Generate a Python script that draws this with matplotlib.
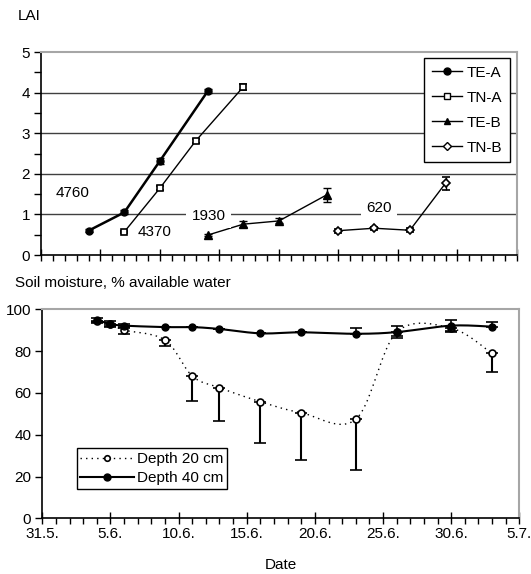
import numpy as np
import matplotlib
matplotlib.use("Agg")
import matplotlib.pyplot as plt
from matplotlib.lines import Line2D
from matplotlib.ticker import MultipleLocator, NullFormatter

plt.rcParams['font.family'] = ['Liberation Sans', 'DejaVu Sans']
plt.rcParams['font.size'] = 11

# --- LAI panel (x in days, unlabeled axis 0..40) ---
te_a_x = [4, 7, 10, 14]
te_a_y = [0.60, 1.05, 2.32, 4.03]
te_a_err = [0.03, 0.05, 0.07, 0.05]

tn_a_x = [7, 10, 13, 17]
tn_a_y = [0.57, 1.65, 2.81, 4.14]
tn_a_err = [0.03, 0.06, 0.05, 0.08]

te_b_x = [14, 17, 20, 24]
te_b_y = [0.49, 0.76, 0.84, 1.48]
te_b_err = [0.03, 0.08, 0.06, 0.17]

tn_b_x = [25, 28, 31, 34]
tn_b_y = [0.60, 0.66, 0.61, 1.77]
tn_b_err = [0.05, 0.04, 0.05, 0.16]

density_labels = ['4760', '4370', '1930', '620']

# --- Soil moisture panel (days after 31.5.) ---
days = [4, 5, 6, 9, 11, 13, 16, 19, 23, 26, 30, 33]
d20 = [94.5, 93.0, 90.1, 85.3, 68.1, 62.5, 55.8, 50.5, 47.4, 89.0, 91.0, 78.9]
d20_lo = [1.0, 1.0, 2.0, 3.0, 11.8, 15.8, 19.6, 22.6, 24.3, 2.0, 2.0, 8.8]
d20_hi = [0, 0, 1.5, 0, 0, 0, 0, 0, 0, 0, 0, 0]
d40 = [94.9, 93.0, 92.2, 91.5, 91.5, 90.6, 88.5, 89.0, 88.3, 89.1, 92.2, 91.7]
d40_lo = [1.0, 1.5, 1.0, 0, 0, 0, 0, 0, 0, 2.8, 2.7, 0]
d40_hi = [1.0, 1.5, 1.0, 0, 0, 0, 0, 0, 3.0, 2.8, 2.7, 2.2]

date_ticks = [0, 5, 10, 15, 20, 25, 30, 35]
date_labels = ['31.5.', '5.6.', '10.6.', '15.6.', '20.6.', '25.6.', '30.6.', '5.7.']


def smooth(x, y, n=24):
    # Excel-style smoothed line: cubic Bezier segments with Catmull-Rom controls
    p = np.column_stack([x, y]).astype(float)
    pts = [p[0]]
    for i in range(len(p) - 1):
        p0 = p[i - 1] if i > 0 else p[i]
        p1, p2 = p[i], p[i + 1]
        p3 = p[i + 2] if i + 2 < len(p) else p[i + 1]
        c1 = p1 + (p2 - p0) / 6
        c2 = p2 - (p3 - p1) / 6
        t = np.linspace(0, 1, n)[1:, None]
        seg = ((1 - t) ** 3 * p1 + 3 * (1 - t) ** 2 * t * c1
               + 3 * (1 - t) * t ** 2 * c2 + t ** 3 * p2)
        pts.extend(seg)
    pts = np.array(pts)
    return pts[:, 0], pts[:, 1]


def frame(ax):
    for s in ['top', 'right']:
        ax.spines[s].set_color('#a6a6a6')
        ax.spines[s].set_linewidth(1.5)
    for s in ['left', 'bottom']:
        ax.spines[s].set_color('black')
        ax.spines[s].set_linewidth(1.2)


fig = plt.figure(figsize=(5.31, 5.74), dpi=100)

# ---------------- top: LAI ----------------
ax1 = fig.add_axes([0.0772, 0.5557, 0.8964, 0.3537])
frame(ax1)
ax1.set_xlim(0, 40)
ax1.set_ylim(0, 5)
for g in [1, 2, 3, 4]:
    ax1.axhline(g, color='#404040', lw=1.0, zorder=1)

eb = dict(ecolor='black', elinewidth=1.0, capsize=3, capthick=1.0, color='black', zorder=3)
ax1.errorbar(te_a_x, te_a_y, yerr=te_a_err, marker='o', ms=5, lw=1.8,
             mfc='black', mec='black', **eb)
ax1.errorbar(tn_a_x, tn_a_y, yerr=tn_a_err, marker='s', ms=5, lw=1.0,
             mfc='white', mec='black', mew=1.2, **eb)
ax1.errorbar(te_b_x, te_b_y, yerr=te_b_err, marker='^', ms=5.5, lw=1.0,
             mfc='black', mec='black', **eb)
ax1.errorbar(tn_b_x, tn_b_y, yerr=tn_b_err, marker='D', ms=4.5, lw=1.0,
             mfc='white', mec='black', mew=1.2, **eb)

ax1.text(1.2, 1.53, density_labels[0], ha='left', va='center')
ax1.text(8.1, 0.57, density_labels[1], ha='left', va='center')
ax1.text(14.1, 0.97, density_labels[2], ha='center', va='center', zorder=4,
         bbox=dict(facecolor='white', edgecolor='none', pad=4))
ax1.text(28.4, 1.15, density_labels[3], ha='center', va='center', zorder=4,
         bbox=dict(facecolor='white', edgecolor='none', pad=3.5))

ax1.xaxis.set_major_locator(MultipleLocator(5))
ax1.xaxis.set_minor_locator(MultipleLocator(1))
ax1.xaxis.set_major_formatter(NullFormatter())
ax1.tick_params(axis='x', which='major', direction='inout', length=8, width=1)
ax1.tick_params(axis='x', which='minor', direction='out', length=4, width=1)
ax1.yaxis.set_major_locator(MultipleLocator(1))
ax1.yaxis.set_minor_locator(MultipleLocator(0.5))
ax1.tick_params(axis='y', which='both', direction='out', length=5, width=1, pad=3)

handles1 = [
    Line2D([], [], color='black', lw=1.0, marker='o', ms=5, mfc='black', mec='black'),
    Line2D([], [], color='black', lw=1.0, marker='s', ms=4.5, mfc='white', mec='black'),
    Line2D([], [], color='black', lw=1.0, marker='^', ms=5, mfc='black', mec='black'),
    Line2D([], [], color='black', lw=1.0, marker='D', ms=4, mfc='white', mec='black'),
]
leg1 = ax1.legend(handles1, ['TE-A', 'TN-A', 'TE-B', 'TN-B'], loc='upper right',
                  bbox_to_anchor=(0.985, 0.970), borderaxespad=0,
                  fancybox=False, edgecolor='black', framealpha=1, handlelength=2.0,
                  labelspacing=0.72, borderpad=0.5, handletextpad=0.3)
leg1.get_frame().set_linewidth(1.0)
leg1.set_zorder(5)

# ---------------- bottom: soil moisture ----------------
ax2 = fig.add_axes([0.0797, 0.0970, 0.8983, 0.3641])
frame(ax2)
ax2.set_xlim(0, 35)
ax2.set_ylim(0, 100)

sx, sy = smooth(days, d20)
ax2.plot(sx, sy, color='black', lw=1.0, ls=(0, (1, 3)), zorder=2)
ax2.errorbar(days, d20, yerr=[d20_lo, d20_hi], fmt='o', ms=5, mfc='white', mec='black',
             mew=1.2, ecolor='black', elinewidth=1.5, capsize=4, capthick=1.5, zorder=3)
sx, sy = smooth(days, d40)
ax2.plot(sx, sy, color='black', lw=1.5, zorder=4)
ax2.errorbar(days, d40, yerr=[d40_lo, d40_hi], fmt='o', ms=5, mfc='black', mec='black',
             ecolor='black', elinewidth=1.2, capsize=4, capthick=1.2, zorder=5)

h20 = Line2D([], [], color='black', lw=1.0, ls=(0, (1, 3)), marker='o', ms=4,
             mfc='white', mec='black', mew=1.2)
h40 = Line2D([], [], color='black', lw=1.5, marker='o', ms=5, mfc='black', mec='black')
leg2 = ax2.legend([h20, h40], ['Depth 20 cm', 'Depth 40 cm'], loc='lower left',
                  bbox_to_anchor=(0.072, 0.139), borderaxespad=0, fancybox=False,
                  edgecolor='black', framealpha=1, handlelength=3.5, labelspacing=0.35,
                  borderpad=0.25, handletextpad=0.2)
leg2.get_frame().set_linewidth(1.0)

ax2.set_xticks(date_ticks)
ax2.set_xticklabels(date_labels)
ax2.xaxis.set_minor_locator(MultipleLocator(1))
ax2.tick_params(axis='x', which='major', direction='inout', length=8, width=1, pad=2)
ax2.tick_params(axis='x', which='minor', direction='out', length=4, width=1)
ax2.yaxis.set_major_locator(MultipleLocator(20))
ax2.tick_params(axis='y', which='major', direction='out', length=5, width=1, pad=3)

fig.text(0.034, 0.972, 'LAI', ha='left', va='center')
fig.text(0.028, 0.507, 'Soil moisture, % available water', ha='left', va='center')
fig.text(0.529, 0.016, 'Date', ha='center', va='center')

fig.savefig('out.png', dpi=100)
